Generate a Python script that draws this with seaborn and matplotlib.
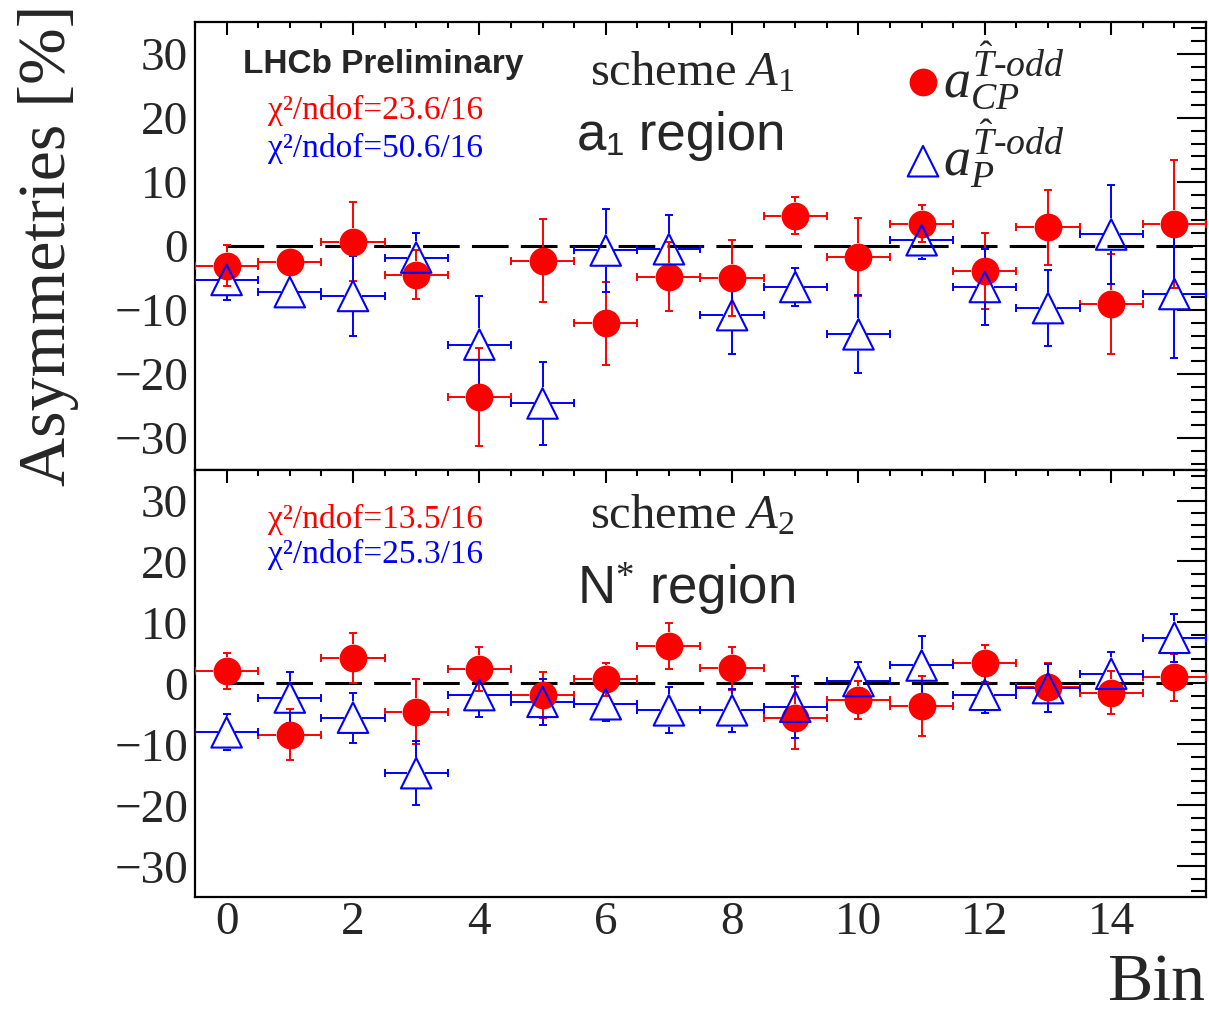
import matplotlib
matplotlib.use("Agg")
import matplotlib.pyplot as plt
import numpy as np
import pandas as pd
import seaborn as sns
from matplotlib.ticker import MultipleLocator

# ---- data ----
bins = list(range(16))

# scheme A1, a1 region
acp_a1 = [-3.1, -2.5, 0.7, -4.5, -23.6, -2.3, -12.1, -4.8, -5.0, 4.7, -1.7, 3.5, -3.9, 2.9, -9.1, 3.4]
ap_a1 = [-5.3, -7.2, -7.8, -1.8, -15.4, -24.6, -0.7, -0.5, -10.8, -6.4, -13.8, 0.9, -6.4, -9.7, 1.8, -7.5]
err_a1 = [3.2, 2.0, 6.2, 3.8, 7.6, 6.5, 6.5, 5.4, 6.0, 2.9, 6.1, 2.9, 6.0, 5.9, 7.8, 10.0]

# scheme A2, N* region
acp_n = [2.1, -8.4, 4.2, -4.6, 2.4, -1.85, 0.7, 6.1, 2.5, -5.7, -2.7, -3.65, 3.3, -0.65, -1.5, 1.0]
ap_n = [-8.0, -2.3, -5.6, -14.7, -1.9, -3.0, -3.4, -4.4, -4.4, -3.8, 0.4, 2.95, -1.85, -0.75, 1.6, 7.5]
err_n = [2.95, 4.2, 4.1, 5.3, 3.6, 3.8, 2.7, 3.8, 3.5, 5.1, 3.1, 4.9, 3.0, 4.0, 3.5, 3.9]

chi2_a1 = ["23.6/16", "50.6/16"]
chi2_n = ["13.5/16", "25.3/16"]

RED = "#ff0000"
BLUE = "#0000ff"
CIRCLE_MS = 20      # points
TRI_MS = 22
ELW = 1.4
CAP = 5.8

sns.set_style("white")
plt.rcParams["font.family"] = ["Liberation Serif", "DejaVu Serif"]
plt.rcParams["mathtext.fontset"] = "custom"
plt.rcParams["mathtext.rm"] = "Liberation Serif"
plt.rcParams["mathtext.it"] = "Liberation Serif:italic"
plt.rcParams["mathtext.bf"] = "Liberation Serif:bold"
plt.rcParams["axes.unicode_minus"] = True

fig = plt.figure(figsize=(12.09, 10.18), dpi=100)
ax_top = fig.add_axes([0.1613, 0.5383, 0.8362, 0.4401])
ax_bot = fig.add_axes([0.1613, 0.1189, 0.8362, 0.4194])


def style_axes(ax, show_xlabels):
    ax.set_xlim(-0.5, 15.5)
    ax.set_ylim(-35, 35)
    ax.xaxis.set_major_locator(MultipleLocator(2))
    ax.xaxis.set_minor_locator(MultipleLocator(0.5))
    ax.yaxis.set_major_locator(MultipleLocator(10))
    ax.yaxis.set_minor_locator(MultipleLocator(2))
    ax.tick_params(which="both", direction="in", top=True, right=True,
                   width=1.5, color="black", labelsize=34)
    ax.tick_params(axis="y", which="major", length=21, pad=5)
    ax.tick_params(axis="y", which="minor", length=11)
    ax.tick_params(axis="x", which="major", length=9.5, pad=3)
    ax.tick_params(axis="x", which="minor", length=4.5)
    ax.tick_params(axis="x", labelbottom=show_xlabels)
    for s in ax.spines.values():
        s.set_linewidth(1.6)
        s.set_color("black")


def draw_series(ax, y, err, color, marker, size, gx_pt, gy_pt, filled):
    x = np.asarray(bins, dtype=float)
    y = np.asarray(y, dtype=float)
    err = np.asarray(err, dtype=float)
    bb = ax.get_window_extent()
    x0, x1 = ax.get_xlim()
    y0, y1 = ax.get_ylim()
    px = fig.dpi / 72
    gx = gx_pt * px * (x1 - x0) / bb.width
    gy = gy_pt * px * (y1 - y0) / bb.height
    hw = 0.5
    # error bars stop at the marker edge, as in the original
    ax.hlines(y, x - hw, x - gx, colors=color, lw=ELW, zorder=3)
    ax.hlines(y, x + gx, x + hw, colors=color, lw=ELW, zorder=3)
    ax.plot(np.r_[x - hw, x + hw], np.r_[y, y], ls="none", marker="|",
            ms=CAP, mew=ELW, color=color, zorder=3)
    big = err > gy
    ax.vlines(x[big], y[big] + gy, y[big] + err[big], colors=color, lw=ELW, zorder=3)
    ax.vlines(x[big], y[big] - err[big], y[big] - gy, colors=color, lw=ELW, zorder=3)
    ax.plot(np.r_[x[big], x[big]], np.r_[y[big] + err[big], y[big] - err[big]],
            ls="none", marker="_", ms=CAP, mew=ELW, color=color, zorder=3)
    df = pd.DataFrame({"bin": x, "val": y})
    sns.scatterplot(data=df, x="bin", y="val", ax=ax, marker=marker, s=size ** 2,
                    color=color, linewidth=0 if filled else 1.5, zorder=4, legend=False)
    coll = ax.collections[-1]
    if not filled:
        coll.set_facecolor("none")
        coll.set_edgecolor(color)
    ax.set_xlabel("")
    ax.set_ylabel("")
    return coll


def draw_panel(ax, acp, ap, err):
    style_axes(ax, ax is ax_bot)
    ax.plot([bins[0], bins[-1] + 0.5], [0, 0], color="black", lw=2.2,
            ls=(0, (12, 4)), zorder=2)
    c1 = draw_series(ax, acp, err, RED, "o", CIRCLE_MS, CIRCLE_MS / 2, CIRCLE_MS / 2, True)
    c2 = draw_series(ax, ap, err, BLUE, "^", TRI_MS, TRI_MS / 4 + 0.75, TRI_MS / 2 + 0.75, False)
    return c1, c2


h_cp, h_p = draw_panel(ax_top, acp_a1, ap_a1, err_a1)
draw_panel(ax_bot, acp_n, ap_n, err_n)

# ---- top panel annotations ----
ax_top.text(0.0475, 0.886, "LHCb Preliminary", transform=ax_top.transAxes,
            family="Liberation Sans", weight="bold", fontsize=24, va="baseline")
ax_top.text(0.072, 0.783, "\u03c7\u00b2/ndof=" + chi2_a1[0], transform=ax_top.transAxes,
            color=RED, fontsize=24, va="baseline")
ax_top.text(0.072, 0.699, "\u03c7\u00b2/ndof=" + chi2_a1[1], transform=ax_top.transAxes,
            color=BLUE, fontsize=24, va="baseline")
ax_top.text(0.391, 0.859, r"scheme $A_{\mathit{1}}$", transform=ax_top.transAxes,
            fontsize=35, va="baseline")
ax_top.text(0.378, 0.714, "a\u2081 region", transform=ax_top.transAxes,
            family=["Liberation Sans", "DejaVu Sans"], fontsize=38, va="baseline")

ax_top.legend(handles=[h_cp, h_p],
              labels=[r"$a^{\hat{T}\text{-}odd}_{CP}$", r"$a^{\hat{T}\text{-}odd}_{P}$"],
              loc="upper left", bbox_to_anchor=(0.700, 0.962), frameon=False,
              fontsize=39, handlelength=0.75, handletextpad=0.0, borderpad=0,
              borderaxespad=0, labelspacing=0.12)

# ---- bottom panel annotations ----
ax_bot.text(0.072, 0.864, "\u03c7\u00b2/ndof=" + chi2_n[0], transform=ax_bot.transAxes,
            color=RED, fontsize=24, va="baseline")
ax_bot.text(0.072, 0.782, "\u03c7\u00b2/ndof=" + chi2_n[1], transform=ax_bot.transAxes,
            color=BLUE, fontsize=24, va="baseline")
ax_bot.text(0.391, 0.864, r"scheme $A_{2}$", transform=ax_bot.transAxes,
            fontsize=35, va="baseline")
ax_bot.text(0.378, 0.684, r"N$^{*}$ region", transform=ax_bot.transAxes,
            family=["Liberation Sans", "DejaVu Sans"], fontsize=38, va="baseline")

# ---- axis titles ----
fig.text(0.040, 0.995, "Asymmetries [%]", rotation=90, ha="center", va="top", fontsize=49)
fig.text(0.997, 0.004, "Bin", ha="right", va="bottom", fontsize=49)

fig.savefig("out.png", dpi=100)
